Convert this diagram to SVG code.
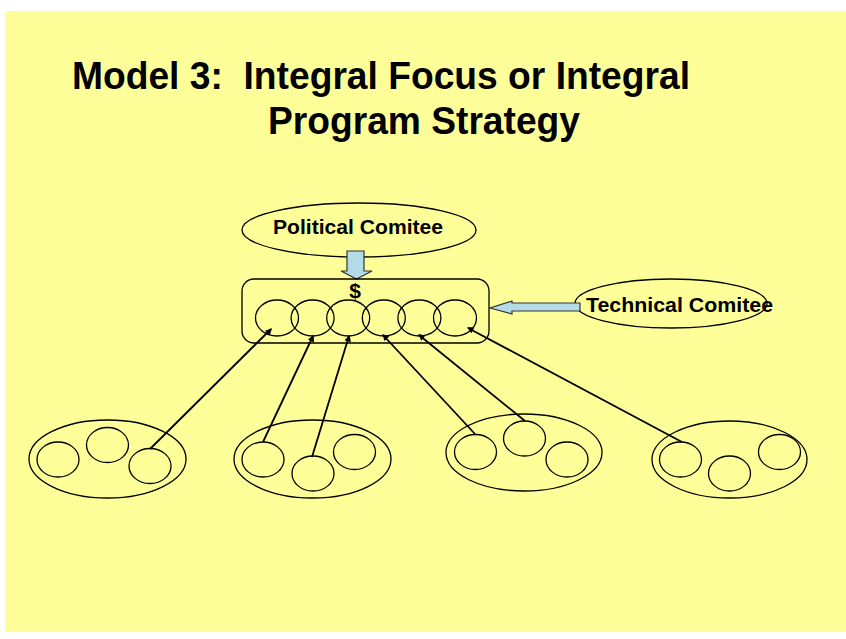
<svg xmlns="http://www.w3.org/2000/svg" width="846" height="639" viewBox="0 0 846 639">
<defs>
<style>
.t{font-family:"Liberation Sans",Arial,sans-serif;font-weight:bold;fill:#000}
.o{fill:none;stroke:#000;stroke-width:1.3}
.blue{fill:#B4DCE6;stroke:#333;stroke-width:1.2}
.con line{stroke:#000;stroke-width:1.8;marker-end:url(#ah)}
</style>
<marker id="ah" viewBox="0 0 10 10" refX="9" refY="5" markerWidth="6" markerHeight="6" markerUnits="userSpaceOnUse" orient="auto" overflow="visible">
<path d="M0,0 L10,5 L0,10 z" fill="#000" transform="scale(1.1)"/>
</marker>
</defs>
<rect x="0" y="0" width="846" height="639" fill="#fff"/>
<rect x="5" y="11" width="841" height="621" fill="#FFFF99"/>
<g id="title">
<text class="t" x="72" y="89" font-size="38" textLength="618" lengthAdjust="spacingAndGlyphs" xml:space="preserve">Model 3:  Integral Focus or Integral</text>
<text class="t" x="268" y="134" font-size="38" textLength="312" lengthAdjust="spacingAndGlyphs">Program Strategy</text>
</g>
<g id="political">
<ellipse class="o" cx="359" cy="230" rx="117" ry="27"/>
<text class="t" x="273" y="234" font-size="20" textLength="170" lengthAdjust="spacingAndGlyphs">Political Comitee</text>
</g>
<g id="downArrow">
<path class="blue" d="M347,251 H364 V271 H372 L356.5,279 L341,271 H347 Z"/>
</g>
<g id="program">
<rect class="o" x="242" y="279" width="247" height="64" rx="12"/>
<text class="t" x="355" y="298" font-size="21" text-anchor="middle">$</text>
<ellipse class="o" cx="277" cy="318" rx="21.5" ry="18"/>
<ellipse class="o" cx="312.6" cy="318" rx="21.5" ry="18"/>
<ellipse class="o" cx="348.2" cy="318" rx="21.5" ry="18"/>
<ellipse class="o" cx="383.8" cy="318" rx="21.5" ry="18"/>
<ellipse class="o" cx="419.4" cy="318" rx="21.5" ry="18"/>
<ellipse class="o" cx="455" cy="318" rx="21.5" ry="18"/>
</g>
<g id="technical">
<ellipse class="o" cx="671" cy="303.5" rx="96" ry="24.5"/>
<text class="t" x="586" y="312" font-size="20" textLength="187" lengthAdjust="spacingAndGlyphs">Technical Comitee</text>
</g>
<g id="leftArrow">
<path class="blue" d="M580,303 V311 H512 V314 L490,308 L512,301 V303 Z"/>
</g>
<g id="group1">
<ellipse class="o" cx="107.5" cy="459" rx="78.5" ry="39"/>
<ellipse class="o" cx="58" cy="459.5" rx="21" ry="17.5"/>
<ellipse class="o" cx="107.5" cy="445" rx="21" ry="17.5"/>
<ellipse class="o" cx="150" cy="466" rx="21" ry="17.5"/>
</g>
<g id="group2">
<ellipse class="o" cx="312.5" cy="459" rx="78.5" ry="39"/>
<ellipse class="o" cx="263" cy="459.5" rx="21" ry="17.5"/>
<ellipse class="o" cx="313" cy="473.5" rx="21" ry="17.5"/>
<ellipse class="o" cx="354.5" cy="452" rx="21" ry="17.5"/>
</g>
<g id="group3">
<ellipse class="o" cx="524" cy="452.5" rx="78" ry="38.5"/>
<ellipse class="o" cx="475.5" cy="452" rx="21" ry="17.5"/>
<ellipse class="o" cx="524.5" cy="438.5" rx="21" ry="17.5"/>
<ellipse class="o" cx="567" cy="459.5" rx="21" ry="17.5"/>
</g>
<g id="group4">
<ellipse class="o" cx="729.5" cy="459.5" rx="77.5" ry="38.5"/>
<ellipse class="o" cx="680.5" cy="459.5" rx="21" ry="17.5"/>
<ellipse class="o" cx="729.5" cy="473.5" rx="21" ry="17.5"/>
<ellipse class="o" cx="779.5" cy="452" rx="21" ry="17.5"/>
</g>
<g id="connectors" class="con">
<line x1="150" y1="449" x2="271" y2="329"/>
<line x1="263" y1="442" x2="313" y2="336"/>
<line x1="312" y1="457" x2="349" y2="336"/>
<line x1="475" y1="434" x2="383" y2="335"/>
<line x1="525" y1="421" x2="419" y2="335"/>
<line x1="682" y1="442" x2="468" y2="328"/>
</g>
</svg>
